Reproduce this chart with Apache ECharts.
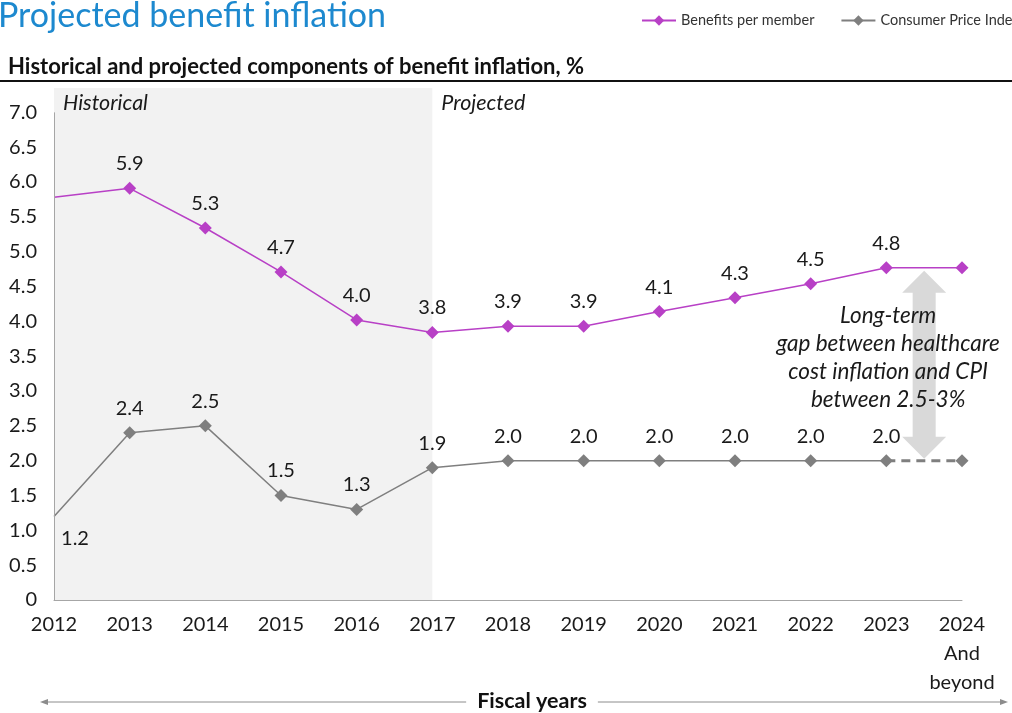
<!DOCTYPE html>
<html>
<head>
<meta charset="utf-8">
<script src="https://cdn.jsdelivr.net/npm/echarts@6/dist/echarts.min.js"></script>
<style>
  html, body { margin: 0; padding: 0; background: #fff; }
  #chart { width: 1012px; height: 713px; }
</style>
</head>
<body>
<div id="chart"></div>
<script>
const years = ['2012', '2013', '2014', '2015', '2016', '2017', '2018', '2019', '2020', '2021', '2022', '2023', '2024']
const benefits = [5.78, 5.91, 5.34, 4.71, 4.02, 3.84, 3.93, 3.93, 4.14, 4.34, 4.54, 4.77, 4.77]
const cpi = [1.2, 2.4, 2.5, 1.5, 1.3, 1.9, 2.0, 2.0, 2.0, 2.0, 2.0, 2.0, 2.0]
const histEnd = '2017'
const gapNote = 'Long-term\ngap between healthcare\ncost inflation and CPI\nbetween 2.5-3%'

const FONT = 'Lato'
const PURPLE = '#b840c6'
const GREY = '#7f7f7f'
const last = years.length - 1

const chart = echarts.init(document.getElementById('chart'))

const labelBase = { fontFamily: FONT, fontSize: 20, color: '#1a1a1a' }

const benefitData = benefits.map((v, i) => ({
  value: v,
  symbolSize: i === 0 ? 0 : 13,
  label: { show: i > 0 && i < last },
}))

const cpiData = cpi.map((v, i) => {
  if (i === last) return '-'
  const item = { value: v, symbolSize: i === 0 ? 0 : 13 }
  if (i === 0) item.label = { show: true, position: 'bottom', distance: 12, offset: [21, 0] }
  return item
})

const cpiTail = cpi.map((v, i) => {
  if (i < last - 1) return '-'
  return { value: v, symbolSize: i === last ? 13 : 0 }
})

const option = {
  animation: false,
  title: [
    {
      text: 'Projected benefit inflation',
      left: -7, top: -6,
      textStyle: { fontFamily: FONT, fontSize: 34, fontWeight: 'normal', color: '#1d89cf' },
    },
    {
      text: 'Historical and projected components of benefit inflation, %',
      left: 3, top: 51,
      textStyle: { fontFamily: FONT, fontSize: 22, fontWeight: 'bold', color: '#111' },
    },
  ],
  legend: {
    data: ['Benefits per member', 'Consumer Price Index'],
    left: 636, top: 8, width: 600,
    itemWidth: 34, itemHeight: 13, itemGap: 26,
    textStyle: { fontFamily: FONT, fontSize: 14.5, color: '#333' },
  },
  grid: { left: 54, right: 50, top: 88, bottom: 113 },
  xAxis: {
    type: 'category',
    data: years,
    boundaryGap: false,
    axisLine: { lineStyle: { color: '#a6a6a6' } },
    axisTick: { show: false },
    axisLabel: {
      interval: 0,
      fontFamily: FONT, fontSize: 20, color: '#1a1a1a', margin: 10, lineHeight: 29,
      formatter: (v) => v === years[last] ? v + '\nAnd\nbeyond' : v,
    },
  },
  yAxis: {
    type: 'value',
    min: 0, max: 7.35, interval: 0.5,
    splitLine: { show: false },
    axisLine: { show: false },
    axisTick: { show: false },
    axisLabel: {
      fontFamily: FONT, fontSize: 20, color: '#1a1a1a', margin: 17,
      formatter: (v) => v > 7.01 ? '' : (v === 0 ? '0' : v.toFixed(1)),
    },
  },
  series: [
    {
      name: 'Benefits per member',
      type: 'line',
      data: benefitData,
      symbol: 'diamond',
      symbolSize: 13,
      color: PURPLE,
      lineStyle: { width: 1.5, color: PURPLE },
      label: { ...labelBase, position: 'top', distance: 8, formatter: (p) => p.value.toFixed(1) },
      z: 3,
      markArea: {
        silent: true,
        data: [
          [
            { xAxis: years[0], yAxis: 7.35, name: 'Historical',
              itemStyle: { color: '#f2f2f2' } },
            { xAxis: histEnd, yAxis: 0 },
          ],
          [
            { xAxis: histEnd, yAxis: 7.35, name: 'Projected',
              itemStyle: { color: 'rgba(0,0,0,0)' } },
            { xAxis: years[last], yAxis: 0 },
          ],
        ],
        label: {
          position: 'insideTopLeft', distance: 0, offset: [9, 4],
          fontFamily: FONT, fontSize: 21.5, fontStyle: 'italic', color: '#1a1a1a',
        },
      },
      markLine: {
        silent: true,
        symbol: 'none',
        label: { show: false },
        lineStyle: { color: '#a6a6a6', width: 1, type: 'solid' },
        data: [[{ coord: [years[0], 0] }, { coord: [years[0], 7] }]],
      },
    },
    {
      name: 'Consumer Price Index',
      type: 'line',
      data: cpiData,
      symbol: 'diamond',
      symbolSize: 13,
      color: GREY,
      lineStyle: { width: 1.5, color: GREY },
      label: { ...labelBase, show: true, position: 'top', distance: 8, formatter: (p) => p.value.toFixed(1) },
      z: 3,
    },
    {
      name: 'CPI tail',
      type: 'line',
      data: cpiTail,
      symbol: 'diamond',
      symbolSize: 13,
      color: GREY,
      lineStyle: { width: 3, color: GREY, type: [9, 6] },
      z: 2,
    },
  ],
}

chart.setOption(option)

// annotation arrow between the two series in the final interval
const xa = chart.convertToPixel({ xAxisIndex: 0 }, years[last - 1])
const xb = chart.convertToPixel({ xAxisIndex: 0 }, years[last])
const ax = (xa + xb) / 2
const yTop = chart.convertToPixel({ yAxisIndex: 0 }, benefits[last]) + 3
const yBot = chart.convertToPixel({ yAxisIndex: 0 }, cpi[last]) - 2
const hw = 22, sw = 11.5, hh = 22

chart.setOption({
  graphic: [
    { type: 'line', shape: { x1: 0, y1: 81, x2: 1012, y2: 81 }, style: { stroke: '#111', lineWidth: 2 } },
    {
      type: 'polygon', z: 1,
      shape: { points: [
        [ax, yTop], [ax + hw, yTop + hh], [ax + sw, yTop + hh], [ax + sw, yBot - hh],
        [ax + hw, yBot - hh], [ax, yBot], [ax - hw, yBot - hh], [ax - sw, yBot - hh],
        [ax - sw, yTop + hh], [ax - hw, yTop + hh],
      ] },
      style: { fill: '#d9d9d9' },
    },
    {
      type: 'text', z: 10, x: ax - 36, y: 302,
      style: {
        text: gapNote, align: 'center', verticalAlign: 'top',
        font: 'italic 22.5px ' + FONT, lineHeight: 28, fill: '#1a1a1a',
      },
    },
    // fiscal years axis arrow
    { type: 'line', shape: { x1: 44, y1: 702, x2: 1004, y2: 702 }, style: { stroke: '#8c8c8c', lineWidth: 1 } },
    { type: 'polygon', shape: { points: [[40, 702], [48, 699], [48, 705]] }, style: { fill: '#8c8c8c' } },
    { type: 'polygon', shape: { points: [[1008, 702], [1000, 699], [1000, 705]] }, style: { fill: '#8c8c8c' } },
    {
      type: 'text', z: 10, x: 532, y: 701,
      style: {
        text: 'Fiscal years', align: 'center', verticalAlign: 'middle',
        font: 'bold 21.5px ' + FONT, fill: '#111',
        backgroundColor: '#fff', padding: [0, 11],
      },
    },
  ],
})
</script>
</body>
</html>
